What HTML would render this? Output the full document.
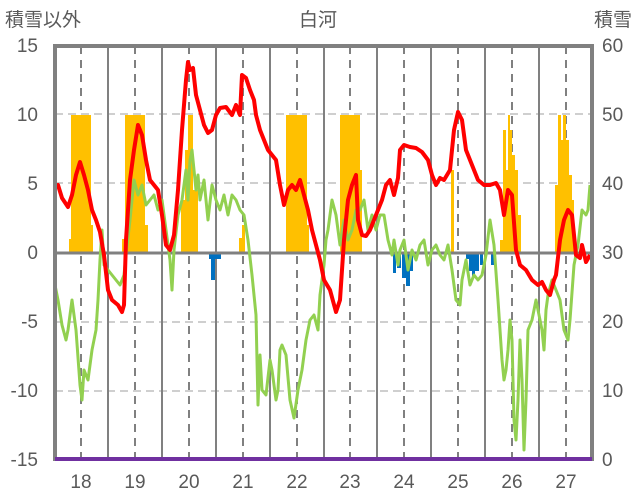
<!DOCTYPE html>
<html><head><meta charset="utf-8"><style>
html,body{margin:0;padding:0;background:#fff;}
svg{display:block;}
text{font-family:"Liberation Sans","Noto Sans CJK JP",sans-serif;fill:#595959;}
</style></head><body>
<svg width="636" height="501" viewBox="0 0 636 501" xmlns="http://www.w3.org/2000/svg">
<rect width="636" height="501" fill="#fff"/>
<!-- titles -->
<text x="5" y="26" font-size="19">積雪以外</text>
<text x="318" y="26" font-size="19" text-anchor="middle">白河</text>
<text x="632" y="26" font-size="19" text-anchor="end">積雪</text>
<!-- left ticks -->
<g font-size="19" text-anchor="end">
<text x="38" y="52">15</text><text x="38" y="121">10</text><text x="38" y="190">5</text>
<text x="38" y="259">0</text><text x="38" y="328">-5</text><text x="38" y="397">-10</text><text x="38" y="466">-15</text>
</g>
<g font-size="19" text-anchor="start">
<text x="602" y="52">60</text><text x="602" y="121">50</text><text x="602" y="190">40</text>
<text x="602" y="259">30</text><text x="602" y="328">20</text><text x="602" y="397">10</text><text x="602" y="466">0</text>
</g>
<g font-size="19" text-anchor="middle">
<text x="81" y="488">18</text><text x="135" y="488">19</text><text x="189" y="488">20</text><text x="243" y="488">21</text>
<text x="297" y="488">22</text><text x="350" y="488">23</text><text x="404" y="488">24</text><text x="458" y="488">25</text>
<text x="512" y="488">26</text><text x="566" y="488">27</text>
</g>
<!-- grid -->
<g stroke="#bfbfbf" stroke-width="1.5" stroke-dasharray="8,5">
<line x1="55" y1="114" x2="592" y2="114"/><line x1="55" y1="183" x2="592" y2="183"/>
<line x1="55" y1="322" x2="592" y2="322"/><line x1="55" y1="391" x2="592" y2="391"/>
</g>
<g stroke="#808080" stroke-width="2" stroke-dasharray="8,6">
<line x1="81" y1="46" x2="81" y2="459"/><line x1="135" y1="46" x2="135" y2="459"/><line x1="189" y1="46" x2="189" y2="459"/>
<line x1="243" y1="46" x2="243" y2="459"/><line x1="297" y1="46" x2="297" y2="459"/><line x1="350" y1="46" x2="350" y2="459"/>
<line x1="404" y1="46" x2="404" y2="459"/><line x1="458" y1="46" x2="458" y2="459"/><line x1="512" y1="46" x2="512" y2="459"/>
<line x1="566" y1="46" x2="566" y2="459"/>
</g>
<g stroke="#808080" stroke-width="2">
<line x1="108" y1="46" x2="108" y2="459"/><line x1="162" y1="46" x2="162" y2="459"/><line x1="216" y1="46" x2="216" y2="459"/>
<line x1="270" y1="46" x2="270" y2="459"/><line x1="324" y1="46" x2="324" y2="459"/><line x1="377" y1="46" x2="377" y2="459"/>
<line x1="431" y1="46" x2="431" y2="459"/><line x1="485" y1="46" x2="485" y2="459"/><line x1="539" y1="46" x2="539" y2="459"/>
</g>
<!-- orange bars -->
<g fill="#ffc000">
<rect x="69" y="239" width="3" height="14"/><rect x="71" y="115" width="20" height="138"/><rect x="90" y="225" width="3" height="28"/>
<rect x="122" y="239" width="3" height="14"/><rect x="125" y="115" width="20" height="138"/><rect x="145" y="225" width="3" height="28"/>
<rect x="181" y="200" width="4" height="53"/><rect x="185" y="150" width="3" height="103"/><rect x="188" y="115" width="5" height="138"/><rect x="193" y="190" width="5" height="63"/>
<rect x="239" y="238" width="3" height="15"/><rect x="242" y="225" width="3" height="28"/>
<rect x="286" y="115" width="21" height="138"/><rect x="307" y="225" width="2" height="28"/>
<rect x="340" y="115" width="20" height="138"/><rect x="360" y="170" width="2" height="83"/>
<rect x="451" y="170" width="3" height="83"/>
<rect x="500" y="240" width="3" height="13"/><rect x="503" y="130" width="3" height="123"/><rect x="506" y="170" width="2" height="83"/>
<rect x="508" y="115" width="2" height="138"/><rect x="510" y="130" width="2" height="123"/><rect x="512" y="155" width="3" height="98"/>
<rect x="515" y="170" width="3" height="83"/><rect x="518" y="215" width="3" height="38"/>
<rect x="555" y="185" width="3" height="68"/><rect x="558" y="115" width="3" height="138"/><rect x="561" y="140" width="2" height="113"/>
<rect x="563" y="115" width="3" height="138"/><rect x="566" y="140" width="3" height="113"/><rect x="569" y="175" width="3" height="78"/><rect x="572" y="200" width="2" height="53"/>
</g>
<!-- blue bars -->
<g fill="#0070c0">
<rect x="209" y="253" width="12" height="6"/><rect x="211" y="253" width="4" height="27"/>
<rect x="393" y="253" width="3" height="20"/><rect x="397" y="253" width="4" height="15"/><rect x="402" y="253" width="4" height="25"/><rect x="406" y="253" width="4" height="33"/><rect x="410" y="253" width="3" height="18"/>
<rect x="466" y="253" width="3" height="6"/><rect x="469" y="253" width="10" height="18"/><rect x="472" y="253" width="3" height="23"/><rect x="480" y="253" width="3" height="12"/><rect x="491" y="253" width="3" height="12"/>
</g>
<!-- zero line -->
<line x1="55" y1="253" x2="592" y2="253" stroke="#808080" stroke-width="3"/>
<!-- green -->
<polyline fill="none" stroke="#92d050" stroke-width="3" stroke-linejoin="round" points="55,285 58,300 62,325 66,340 68,330 72,300 76,330 80,385 82,400 84,370 88,380 92,350 96,330 98,300 100,260 102,230 104,265 108,270 112,275 116,280 120,285 124,275 126,255 130,220 134,180 138,195 142,185 146,205 150,200 154,195 158,210 162,200 166,230 170,260 172,290 174,250 178,215 182,200 186,170 188,200 190,160 192,150 196,190 198,175 200,200 204,180 208,220 212,185 216,200 220,210 224,195 228,215 232,195 236,200 240,210 244,215 248,240 252,275 256,315 258,405 260,355 262,390 266,395 270,360 272,370 276,400 278,390 280,350 282,345 286,355 290,400 294,418 298,390 302,370 306,340 310,320 314,315 318,330 320,295 324,265 326,240 328,230 332,200 336,215 340,245 344,220 348,240 352,230 356,210 360,210 364,200 368,230 372,215 376,230 380,215 384,215 388,240 392,255 394,240 398,265 400,250 404,240 408,270 412,250 416,260 420,245 424,240 428,265 432,250 436,245 440,255 444,260 448,245 452,270 456,300 460,305 462,280 466,260 470,285 474,275 478,280 482,275 486,255 490,220 494,245 498,300 502,360 504,380 506,370 508,350 510,320 512,340 514,420 516,440 518,400 520,340 522,380 524,450 526,400 528,330 532,320 536,300 540,320 542,330 544,350 546,310 548,295 552,280 556,290 560,300 564,330 568,340 570,320 574,265 578,245 582,210 586,215 588,210 590,185"/>
<!-- red -->
<polyline fill="none" stroke="#ff0000" stroke-width="4" stroke-linejoin="round" points="55,187 58,185 62,198 68,207 72,195 76,175 80,162 84,175 88,190 92,210 96,220 100,232 104,255 108,290 112,300 118,305 122,312 124,305 126,240 130,180 134,150 138,125 142,135 146,160 150,180 154,185 158,190 162,215 166,245 170,250 174,235 178,190 182,130 186,80 188,62 190,70 193,68 196,95 200,110 204,125 208,133 212,130 216,115 220,108 226,107 232,115 236,105 240,115 242,75 246,78 250,90 254,100 256,115 260,130 264,140 268,150 272,155 276,160 280,185 284,205 288,190 292,185 296,190 300,180 304,195 308,210 312,230 316,245 320,260 324,280 330,290 336,312 340,300 344,240 348,200 352,185 356,175 358,220 362,235 366,236 370,230 374,220 378,210 382,200 386,185 390,180 394,195 398,178 400,150 404,145 410,147 416,148 422,152 428,160 432,175 436,185 440,178 444,180 450,170 454,130 458,112 462,120 466,150 470,160 474,170 478,180 484,185 490,185 496,183 500,190 504,215 508,190 512,195 516,250 520,265 526,270 532,280 538,285 542,282 546,290 550,295 554,280 556,275 560,240 564,220 568,210 572,215 576,255 580,258 582,245 586,262 590,255"/>
<!-- border -->
<rect x="55" y="46" width="537" height="413" fill="none" stroke="#808080" stroke-width="4"/>
<line x1="55" y1="459" x2="592" y2="459" stroke="#7030a0" stroke-width="4"/>
</svg>
</body></html>
